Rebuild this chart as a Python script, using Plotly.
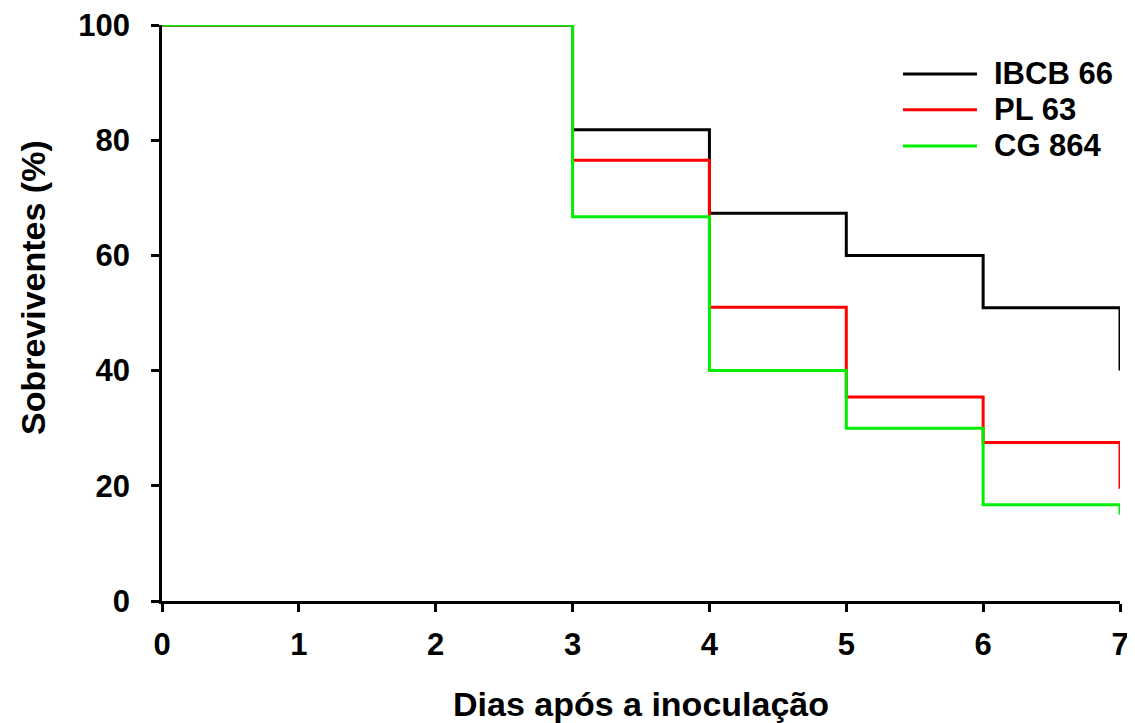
import plotly.graph_objects as go

days = [0, 3, 4, 5, 6, 7]
series_names = ["IBCB 66", "PL 63", "CG 864"]
ibcb66 = [100, 81.8, 67.3, 60.0, 50.9, 40.0]
pl63 = [100, 76.5, 51.0, 35.4, 27.5, 19.5]
cg864 = [100, 66.7, 40.0, 30.0, 16.7, 15.0]
colors = ["#000000", "#ff0000", "#00ee00"]
x_ticks = [0, 1, 2, 3, 4, 5, 6, 7]
y_ticks = [0, 20, 40, 60, 80, 100]
x_title = "Dias após a inoculação"
y_title = "Sobreviventes (%)"

FONT = "Liberation Sans, Arial, sans-serif"

fig = go.Figure()
for name, vals, col in zip(series_names, [ibcb66, pl63, cg864], colors):
    fig.add_trace(go.Scatter(
        x=days, y=vals, mode="lines", name=name,
        line=dict(color=col, width=3, shape="hv"),
        cliponaxis=False, showlegend=False,
    ))

# manual legend
leg_y = [0.915, 0.853, 0.790]
for name, col, yy in zip(series_names, colors, leg_y):
    fig.add_shape(type="line", xref="paper", yref="paper",
                  x0=0.7735, x1=0.8507, y0=yy, y1=yy,
                  line=dict(color=col, width=3))
    fig.add_annotation(xref="paper", yref="paper", x=0.866, y=yy,
                       text="<b>%s</b>" % name, showarrow=False,
                       xanchor="left", yanchor="middle",
                       font=dict(family=FONT, size=31, color="black"))

# y axis title (placed slightly above the plot's middle, as in the reference)
fig.add_annotation(xref="paper", yref="paper", x=-0.1347, y=0.545,
                   text="<b>%s</b>" % y_title, showarrow=False, textangle=-90,
                   xanchor="center", yanchor="middle",
                   font=dict(family=FONT, size=34, color="black"))

# page body has an 8px default margin, so the figure is drawn 8px smaller
fig.update_layout(
    width=1127, height=715,
    margin=dict(l=154, r=15, t=17, b=122),
    paper_bgcolor="white", plot_bgcolor="white",
    font=dict(family=FONT, color="black"),
    showlegend=False,
)
fig.update_xaxes(
    range=[0, 7], tickvals=x_ticks, ticktext=["<b>%d</b>" % v for v in x_ticks],
    showgrid=False, zeroline=False, showline=True, linecolor="black", linewidth=3,
    ticks="outside", ticklen=8, tickwidth=2.5, tickcolor="black",
    tickfont=dict(family=FONT, size=31, color="black"),
    ticklabelstandoff=6, ticklabeloverflow="allow", automargin=False,
    title=dict(text="<b>%s</b>" % x_title, standoff=33,
               font=dict(family=FONT, size=34, color="black")),
)
fig.update_yaxes(
    range=[0, 100], tickvals=y_ticks,
    ticktext=["<b>%d</b>\u00a0\u2009" % v for v in y_ticks],
    showgrid=False, zeroline=False, showline=True, linecolor="black", linewidth=3,
    ticks="outside", ticklen=8, tickwidth=2.5, tickcolor="black",
    tickfont=dict(family=FONT, size=31, color="black"),
    ticklabeloverflow="allow", automargin=False,
)

fig.write_html("out.html")
